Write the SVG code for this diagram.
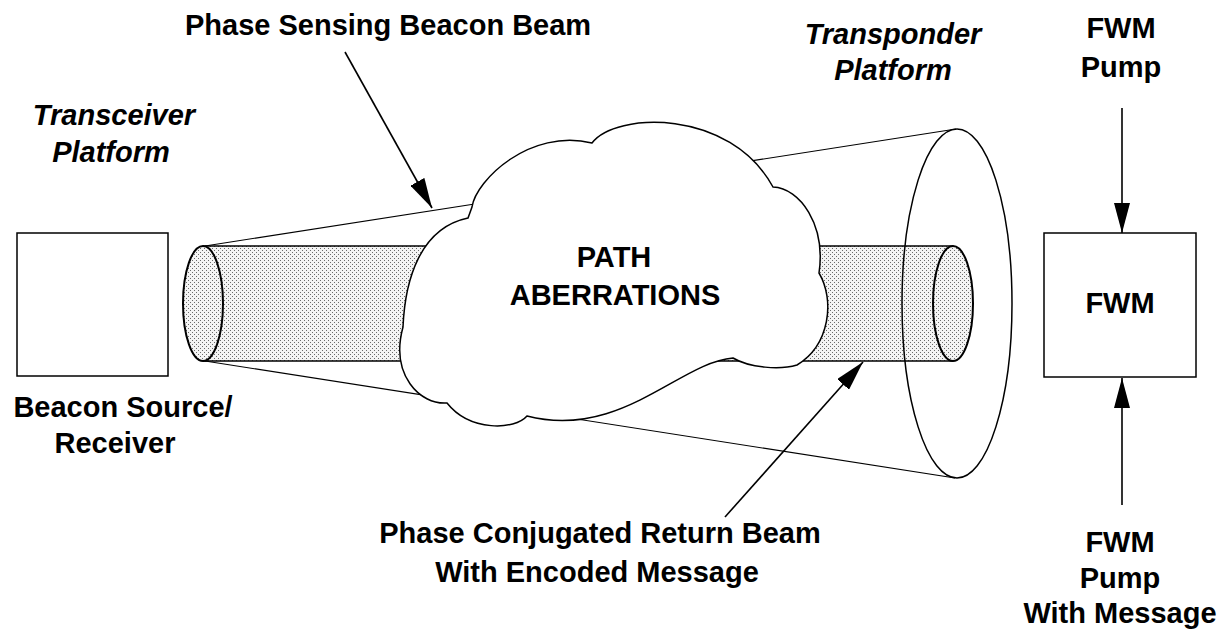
<svg xmlns="http://www.w3.org/2000/svg" width="1224" height="635" viewBox="0 0 1224 635">
  <style>
    .t { font-family: "Liberation Sans", Arial, Helvetica, sans-serif; font-weight: bold; font-size: 29px; fill: #000; }
    .i { font-style: italic; }
    .m { text-anchor: middle; }
    .ln { fill: none; stroke: #000; stroke-width: 1.5; }
    .thin { fill: none; stroke: #000; stroke-width: 1.1; }
    .arr { fill: none; stroke: #000; stroke-width: 1.6; marker-end: url(#ah); }
  </style>
  <defs>
    <pattern id="stip" width="4" height="4" patternUnits="userSpaceOnUse">
      <rect width="4" height="4" fill="#f4f4f4"/>
      <rect x="0" y="0" width="1" height="1" fill="#6a6a6a"/>
      <rect x="2" y="2" width="1" height="1" fill="#6a6a6a"/>
    </pattern>
    <marker id="ah" markerWidth="30" markerHeight="16" refX="30" refY="8" orient="auto" markerUnits="userSpaceOnUse">
      <path d="M0,0 L30,8 L0,16 Z" fill="#000"/>
    </marker>
  </defs>
  <rect width="1224" height="635" fill="#fff"/>

  <g id="cone">
    <line class="thin" x1="205" y1="246" x2="956" y2="129"/>
    <line class="thin" x1="205" y1="361" x2="955" y2="478"/>
  </g>

  <g id="beam">
    <rect x="203" y="246" width="750" height="115" fill="url(#stip)"/>
    <line class="ln" x1="203" y1="246" x2="953" y2="246"/>
    <line class="ln" x1="203" y1="361" x2="953" y2="361"/>
    <ellipse cx="203" cy="303.5" rx="20" ry="57.5" fill="url(#stip)" stroke="#000" stroke-width="2"/>
    <ellipse cx="953" cy="303.5" rx="20" ry="57.5" fill="url(#stip)" stroke="#000" stroke-width="2"/>
  </g>

  <g id="cloud">
    <path d="M472,207 C476,180 530,128 592,143 C615,112 730,108 773,187 C800,188 826,225 819,273 C835,300 830,345 797,365 C780,370 750,368 733,358 C680,362 620,440 527,416 C515,430 470,432 447,403 C420,405 390,375 403,327 C405,280 420,228 468,218 Z" fill="#fff" stroke="#000" stroke-width="1.5" stroke-linejoin="miter"/>
    <text class="t m" x="614" y="267">PATH</text>
    <text class="t m" x="615" y="305">ABERRATIONS</text>
  </g>

  <g id="transponder">
    <ellipse cx="957" cy="303.5" rx="55" ry="174.5" class="ln"/>
    <text class="t i m" x="893" y="44">Transponder</text>
    <text class="t i m" x="893" y="80">Platform</text>
  </g>

  <g id="transceiver">
    <rect x="17" y="233" width="151" height="143" class="ln"/>
    <text class="t i m" x="114" y="125">Transceiver</text>
    <text class="t i m" x="111" y="162">Platform</text>
    <text class="t m" x="123" y="417">Beacon Source/</text>
    <text class="t m" x="115" y="453">Receiver</text>
  </g>

  <g id="fwm">
    <rect x="1044" y="233" width="152" height="144" class="ln"/>
    <text class="t m" x="1120" y="313">FWM</text>
  </g>

  <g id="labels">
    <text class="t" x="185" y="35">Phase Sensing Beacon Beam</text>
    <text class="t m" x="600" y="543">Phase Conjugated Return Beam</text>
    <text class="t m" x="597" y="582">With Encoded Message</text>
    <text class="t m" x="1121" y="38">FWM</text>
    <text class="t m" x="1121" y="77">Pump</text>
    <text class="t m" x="1120" y="552">FWM</text>
    <text class="t m" x="1120" y="588">Pump</text>
    <text class="t m" x="1120" y="623">With Message</text>
  </g>

  <g id="connectors">
    <line class="arr" x1="345" y1="52" x2="432" y2="208"/>
    <line class="arr" x1="725" y1="517" x2="863" y2="362"/>
    <line class="arr" x1="1122" y1="108" x2="1122" y2="233"/>
    <line class="arr" x1="1122" y1="505" x2="1122" y2="378"/>
  </g>
</svg>
